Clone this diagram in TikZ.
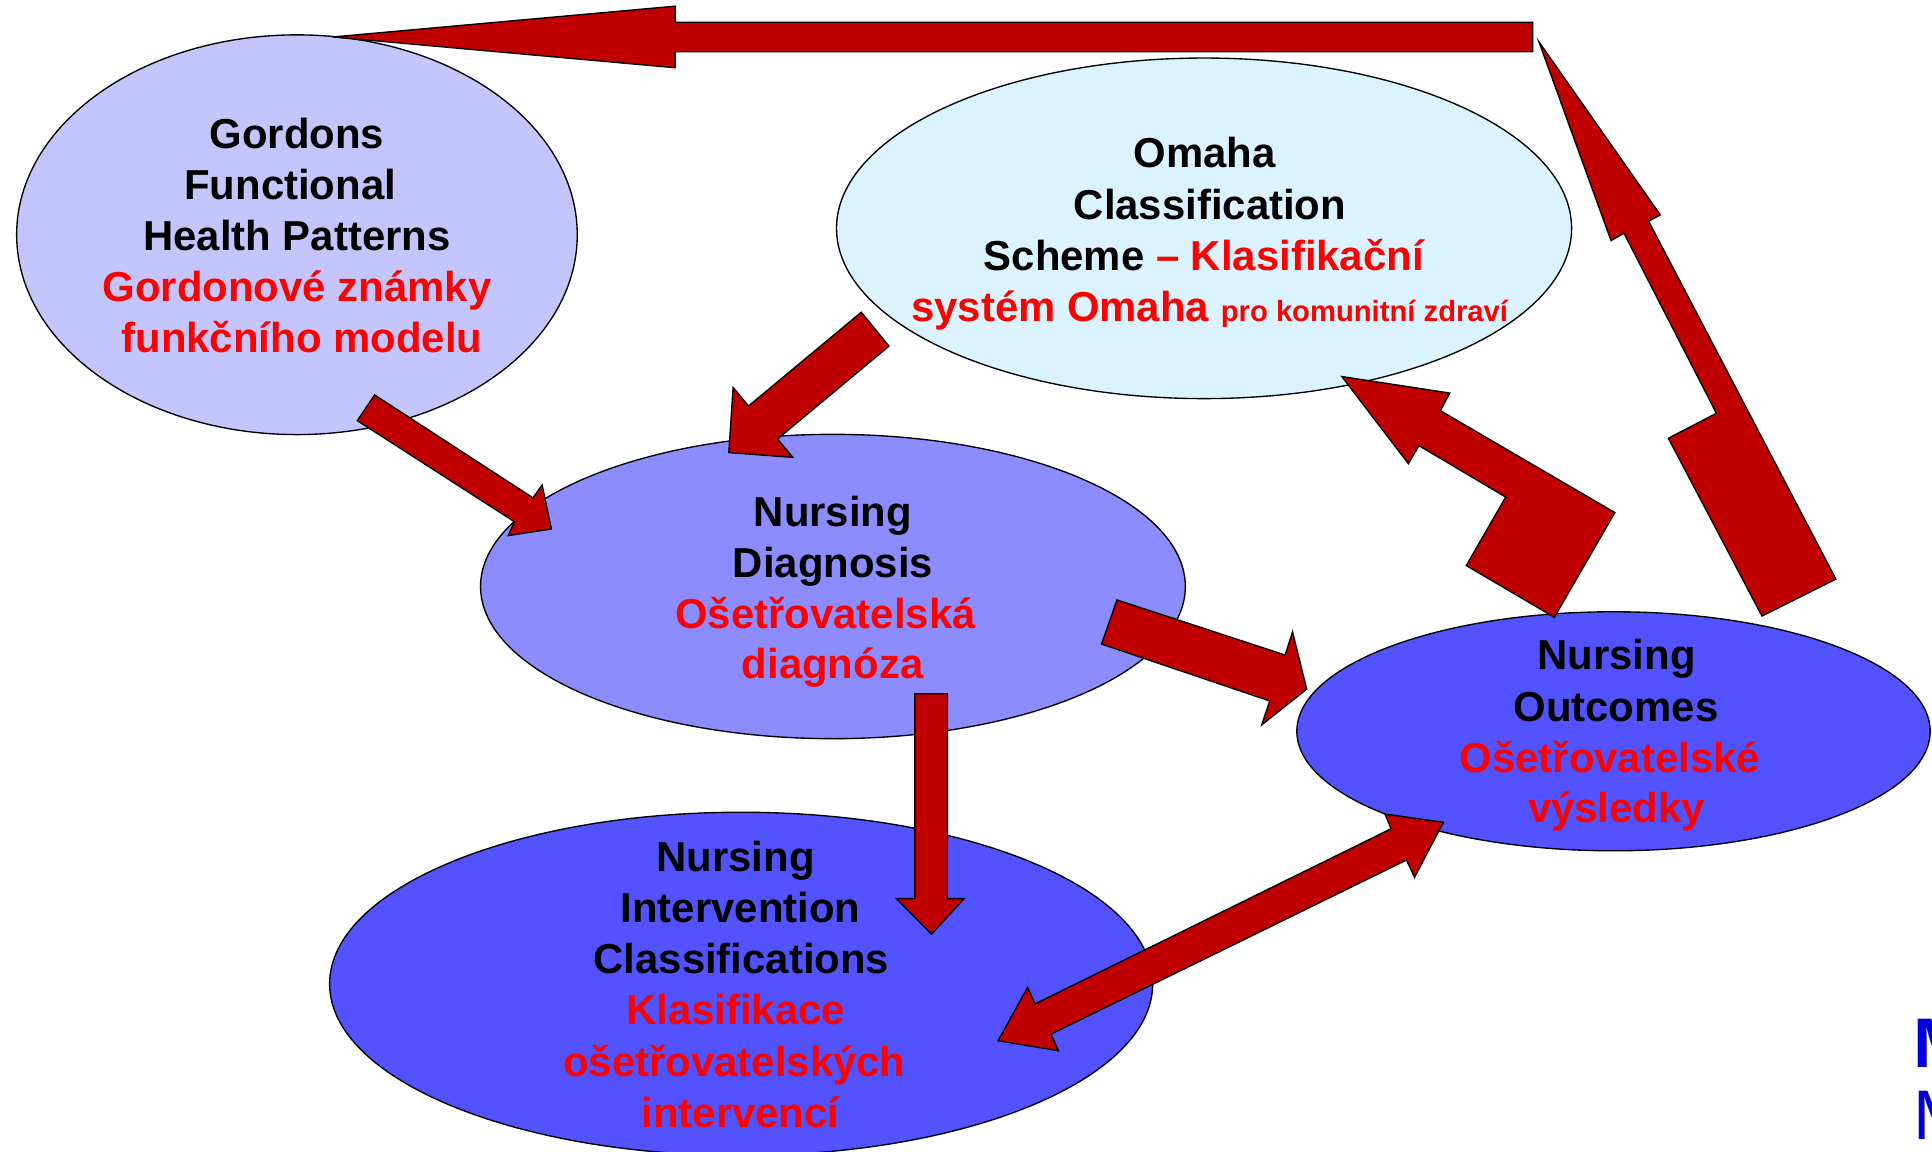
\documentclass[tikz,border=0pt]{standalone}
\usepackage{fontspec}
\setmainfont{Liberation Sans}
\usetikzlibrary{shapes.geometric}
\definecolor{arrred}{HTML}{C00000}
\definecolor{txtred}{HTML}{FF0000}
\definecolor{gordfill}{HTML}{C5C5FD}
\definecolor{omafill}{HTML}{DBF3FE}
\definecolor{diagfill}{HTML}{8C8CFE}
\definecolor{deepfill}{HTML}{5252FE}
\definecolor{mblue}{HTML}{0000DD}
\begin{document}
\begin{tikzpicture}[x=1pt,y=-1pt,
  bub/.style={ellipse, draw=black, line width=1.1pt, inner sep=0pt},
  blk/.style={fill=arrred, draw=black, line width=1.1pt, line join=miter},
  tx/.style={anchor=base, inner sep=0pt, font=\fontsize{34}{40}\selectfont\bfseries},
  rd/.style={tx, text=txtred}]
\useasboundingbox (0,0) rectangle (1568,934.3);
\begin{scope}
\clip (0,0) rectangle (1568,934.3);
% ellipses
\node[bub, fill=gordfill, minimum width=455pt, minimum height=324.4pt] (gord) at (241,190.5) {};
\node[bub, fill=omafill, minimum width=596.6pt, minimum height=276.4pt] (omaha) at (977.2,185.3) {};
\node[bub, fill=diagfill, minimum width=572pt, minimum height=247pt] (diag) at (676,476) {};
\node[bub, fill=deepfill, minimum width=514pt, minimum height=194pt] (outc) at (1309.5,593.5) {};
\node[bub, fill=deepfill, minimum width=668pt, minimum height=278.6pt] (nic) at (601.5,798.5) {};

% arrows
% top: back to Gordons
\filldraw[blk] (1244,18) -- (548,18) -- (548,5) -- (270,30) -- (548,55) -- (548,42) -- (1244,42) -- cycle;
% outcomes up to top
\filldraw[blk] (1249,34) -- (1347.5,174.4) -- (1338,179.5) -- (1490,470) -- (1430,500) -- (1354,355.7) -- (1393,335.4) -- (1318,189.3) -- (1307.5,195.3) -- cycle;
% outcomes to omaha
\filldraw[blk] (1089,305.6) -- (1176.6,319) -- (1169,333.3) -- (1310.6,416) -- (1261.5,501) -- (1190,459) -- (1222,403.4) -- (1151.6,361.7) -- (1143,376.3) -- cycle;
% diagnosis to outcomes
\filldraw[blk] (906.5,486.9) -- (1043,531.6) -- (1049,512.8) -- (1060.5,559.3) -- (1024,588.3) -- (1030.5,568.9) -- (894,522.7) -- cycle;
% double arrow NIC <-> outcomes
\filldraw[blk] (1171.5,667.3) -- (1124,660.7) -- (1129,672.6) -- (840,814.8) -- (834,801.4) -- (810,844.7) -- (859,852.7) -- (853,839.3) -- (1141.5,698) -- (1148,712) -- cycle;
% diagnosis down to NIC
\filldraw[blk] (742.5,563) -- (769,563) -- (769,729.3) -- (782.5,729.3) -- (756,758.2) -- (727.5,729.3) -- (742.5,729.3) -- cycle;
% Gordons to diagnosis
\filldraw[blk] (304,320.5) -- (432.5,404) -- (440,393.6) -- (447.5,429.3) -- (412.5,434.7) -- (417.5,423.4) -- (290,341.4) -- cycle;
% Omaha to diagnosis
\filldraw[blk] (699,253.4) -- (721.5,280.9) -- (631,356.3) -- (643.5,371.2) -- (591.5,367.3) -- (595,314.5) -- (607.5,329.5) -- cycle;

% texts Gordons
\node[tx] (g1) at (241,120.2) {Gordons};
\node[tx] (g2) at (235.5,161.9) {Functional};
\node[tx] (g3) at (241,203.3) {Health Patterns};
\node[rd] (g4) at (241,244.5) {Gordonové známky};
\node[rd] (g5) at (245,286.2) {funkčního modelu};
% Omaha
\node[tx] (o1) at (977.5,135.7) {Omaha};
\node[tx] (o2) at (982,178) {Classification};
\node[tx] (o3) at (977,219.7) {Scheme \textcolor{txtred}{– Klasifikační}};
\node[rd] (o4) at (981.7,260.9) {systém Omaha {\fontsize{23.7}{28}\selectfont pro komunitní zdraví}};
% Diagnosis
\node[tx] (d1) at (676,427) {Nursing};
\node[tx] (d2) at (676,469) {Diagnosis};
\node[rd] (d3) at (670,510.1) {Ošetřovatelská};
\node[rd] (d4) at (675.7,551) {diagnóza};
% Outcomes
\node[tx] (u1) at (1312,543) {Nursing};
\node[tx] (u2) at (1311.5,585.3) {Outcomes};
\node[rd] (u3) at (1306.5,627) {Ošetřovatelské};
\node[rd] (u4) at (1312,667.3) {výsledky};
% NIC
\node[tx] (n1) at (597,707.5) {Nursing};
\node[tx] (n2) at (601,748.7) {Intervention};
\node[tx] (n3) at (601.7,790) {Classifications};
\node[rd] (n4) at (597,831.8) {Klasifikace};
\node[rd] (n5) at (596,873.6) {ošetřovatelských};
\node[rd] (n6) at (601,914.7) {intervencí};
% clipped blue letters at right edge
\node[anchor=base west, inner sep=0pt, text=mblue, font=\fontsize{57}{60}\selectfont\bfseries] (m1) at (1553,866) {M};
\node[anchor=base west, inner sep=0pt, text=mblue, font=\fontsize{57}{60}\selectfont] (m2) at (1553,925) {M};
\end{scope}
\end{tikzpicture}
\end{document}
